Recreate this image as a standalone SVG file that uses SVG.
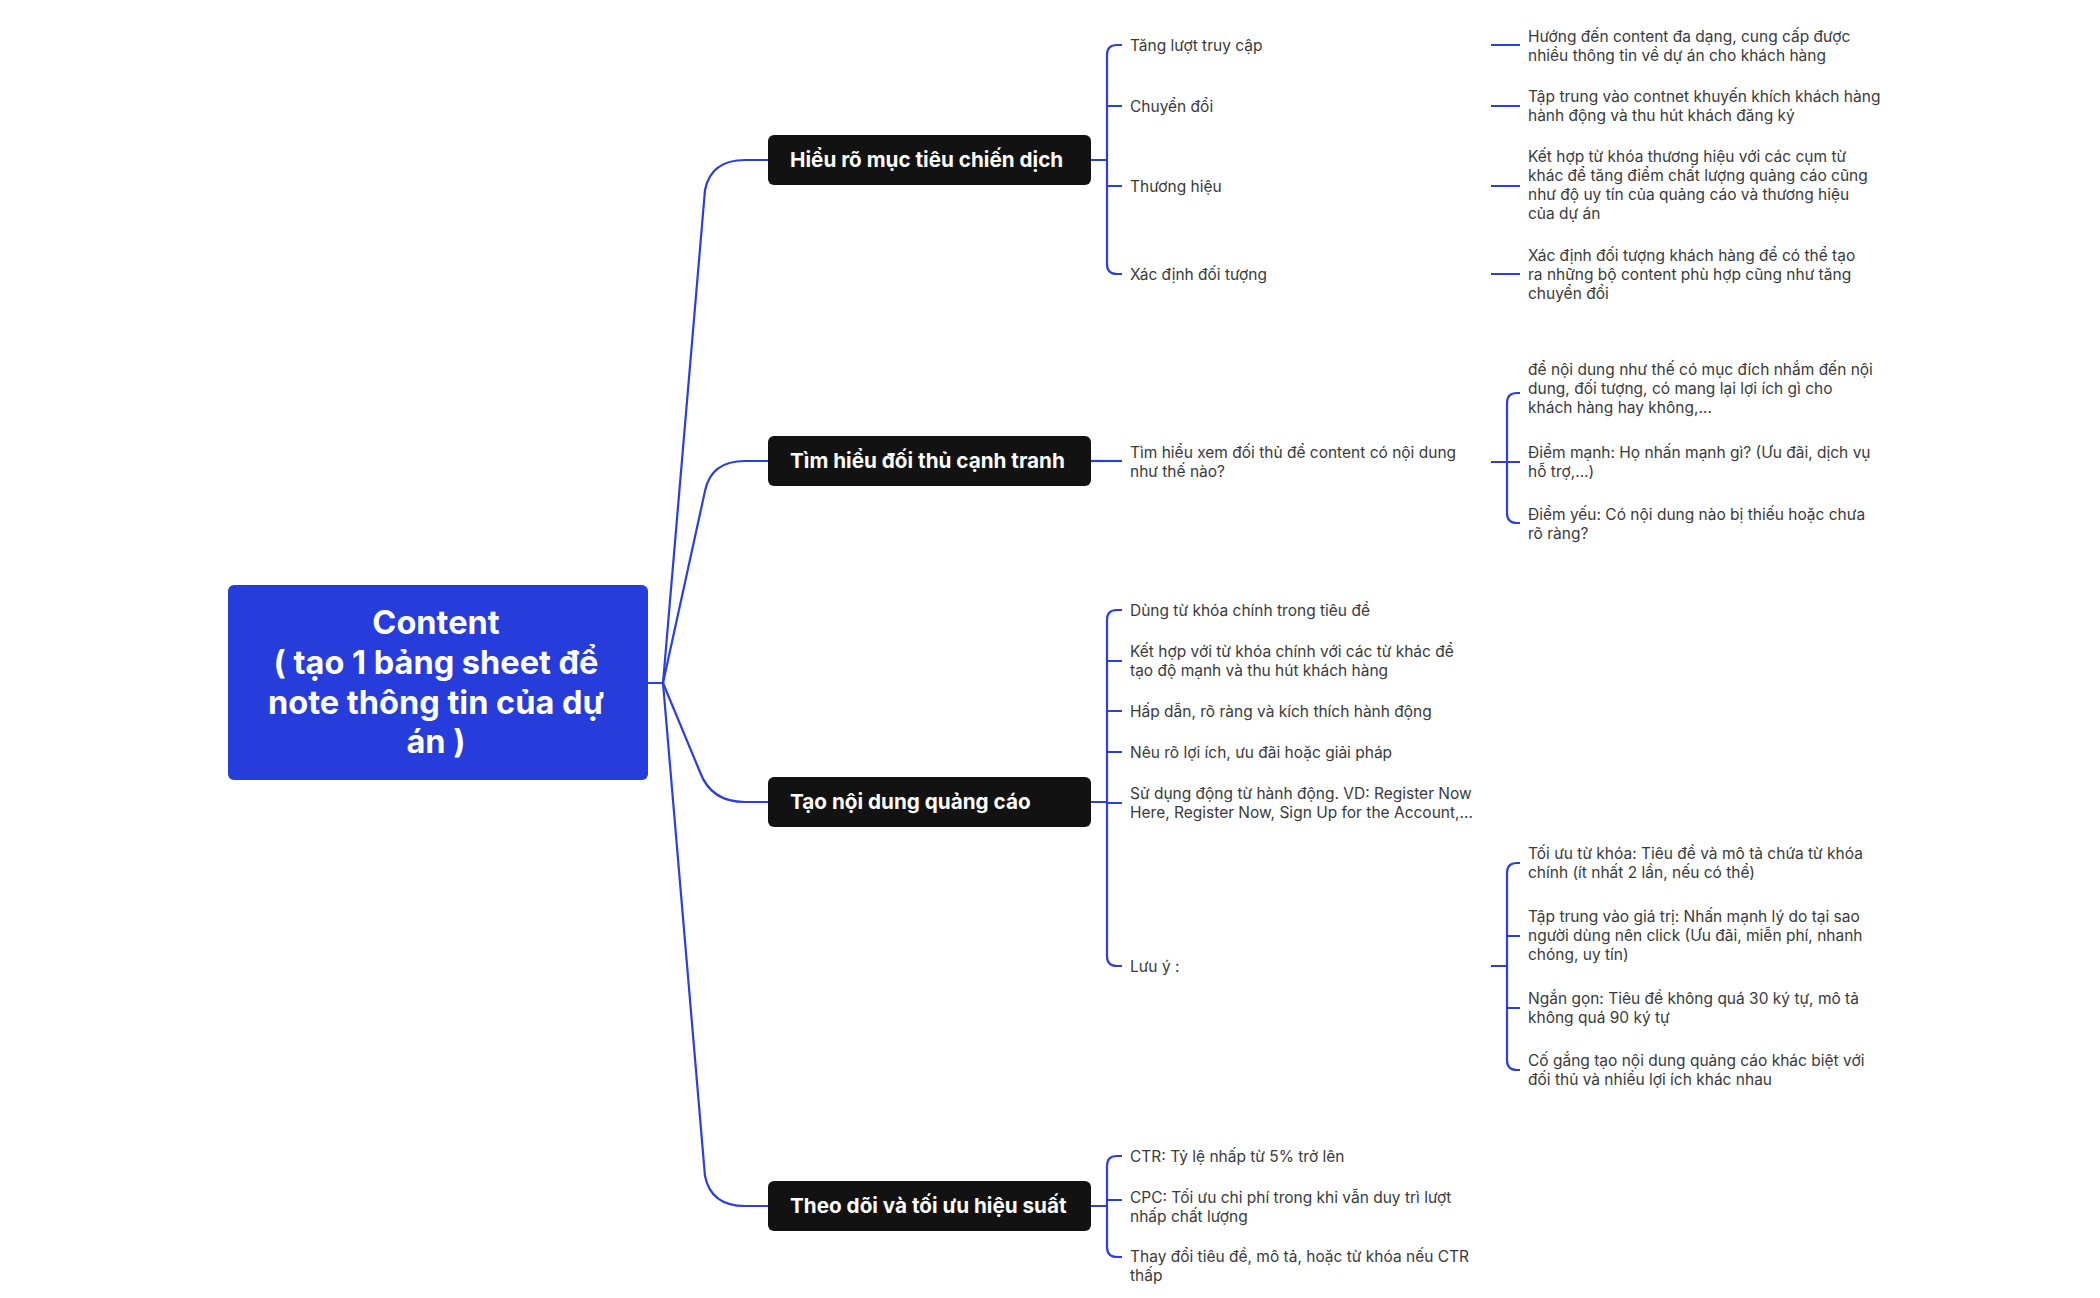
<svg xmlns="http://www.w3.org/2000/svg" width="2100" height="1298" viewBox="0 0 2100 1298">
<style>
.c{fill:none;stroke:#2b3fdc;stroke-width:2.2}
.b{fill:#121212}
.bt{font-family:Inter,"Noto Sans",sans-serif;font-weight:700;font-size:20.7px;fill:#fff}
.rt{font-family:Inter,"Noto Sans",sans-serif;font-weight:700;font-size:32.5px;fill:#fff;text-anchor:middle}
.t{font-family:Inter,"Noto Sans",sans-serif;font-size:15.5px;fill:#3a3a3a}
</style>
<rect width="2100" height="1298" fill="#fff"/>
<g id="connectors">
<path class="c" d="M648,683 H663 L705,190 Q711,160 745,160 H768"/>
<path class="c" d="M663,683 L705,491 Q711,461 745,461 H768"/>
<path class="c" d="M663,683 L700,772 Q711,802 745,802 H768"/>
<path class="c" d="M663,683 L705,1176 Q711,1206 745,1206 H768"/>
<path class="c" d="M1091,160 H1107 M1122,45 H1117 Q1107,45 1107,55 V264 Q1107,274 1117,274 H1122 M1107,106 H1122 M1107,186 H1122"/>
<path class="c" d="M1491,45 H1520 M1491,106 H1520 M1491,186 H1520 M1491,274 H1520"/>
<path class="c" d="M1091,461 H1122"/>
<path class="c" d="M1491,462 H1507 M1520,393 H1517 Q1507,393 1507,403 V513 Q1507,523 1517,523 H1520 M1507,462 H1520"/>
<path class="c" d="M1091,802 H1107 M1122,610 H1117 Q1107,610 1107,620 V956 Q1107,966 1117,966 H1122 M1107,661 H1122 M1107,711 H1122 M1107,752 H1122 M1107,803 H1122"/>
<path class="c" d="M1491,966 H1507 M1520,863 H1517 Q1507,863 1507,873 V1060 Q1507,1070 1517,1070 H1520 M1507,936 H1520 M1507,1008 H1520"/>
<path class="c" d="M1091,1206 H1107 M1122,1156 H1117 Q1107,1156 1107,1166 V1247 Q1107,1257 1117,1257 H1122 M1107,1200 H1122"/>
</g>
<g id="root"><rect x="228" y="585" width="420" height="195" rx="6" fill="#263ddc"/>
<text class="rt"><tspan x="436" y="634">Content</tspan><tspan x="436" y="674">( tạo 1 bảng sheet để</tspan><tspan x="436" y="714">note thông tin của dự</tspan><tspan x="436" y="753">án )</tspan></text></g>
<g id="b1"><rect class="b" x="768" y="135" width="323" height="50" rx="6"/><text class="bt" x="790" y="167">Hiểu rõ mục tiêu chiến dịch</text></g>
<g id="b2"><rect class="b" x="768" y="436" width="323" height="50" rx="6"/><text class="bt" x="790" y="468">Tìm hiểu đối thủ cạnh tranh</text></g>
<g id="b3"><rect class="b" x="768" y="777" width="323" height="50" rx="6"/><text class="bt" x="790" y="809">Tạo nội dung quảng cáo</text></g>
<g id="b4"><rect class="b" x="768" y="1181" width="323" height="50" rx="6"/><text class="bt" x="790" y="1213">Theo dõi và tối ưu hiệu suất</text></g>
<g id="leaves" class="t">
<text x="1130" y="51">Tăng lượt truy cập</text>
<text x="1130" y="112">Chuyển đổi</text>
<text x="1130" y="192">Thương hiệu</text>
<text x="1130" y="280">Xác định đối tượng</text>
<text><tspan x="1528" y="42">Hướng đến content đa dạng, cung cấp được</tspan><tspan x="1528" y="61">nhiều thông tin về dự án cho khách hàng</tspan></text>
<text><tspan x="1528" y="102">Tập trung vào contnet khuyến khích khách hàng</tspan><tspan x="1528" y="121">hành động và thu hút khách đăng ký</tspan></text>
<text><tspan x="1528" y="162">Kết hợp từ khóa thương hiệu với các cụm từ</tspan><tspan x="1528" y="181">khác để tăng điểm chất lượng quảng cáo cũng</tspan><tspan x="1528" y="200">như độ uy tín của quảng cáo và thương hiệu</tspan><tspan x="1528" y="219">của dự án</tspan></text>
<text><tspan x="1528" y="261">Xác định đối tượng khách hàng để có thể tạo</tspan><tspan x="1528" y="280">ra những bộ content phù hợp cũng như tăng</tspan><tspan x="1528" y="299">chuyển đổi</tspan></text>
<text><tspan x="1130" y="458">Tìm hiểu xem đối thủ để content có nội dung</tspan><tspan x="1130" y="477">như thế nào?</tspan></text>
<text><tspan x="1528" y="375">để nội dung như thế có mục đích nhắm đến nội</tspan><tspan x="1528" y="394">dung, đối tượng, có mang lại lợi ích gì cho</tspan><tspan x="1528" y="413">khách hàng hay không,...</tspan></text>
<text><tspan x="1528" y="458">Điểm mạnh: Họ nhấn mạnh gì? (Ưu đãi, dịch vụ</tspan><tspan x="1528" y="477">hỗ trợ,...)</tspan></text>
<text><tspan x="1528" y="520">Điểm yếu: Có nội dung nào bị thiếu hoặc chưa</tspan><tspan x="1528" y="539">rõ ràng?</tspan></text>
<text x="1130" y="616">Dùng từ khóa chính trong tiêu đề</text>
<text><tspan x="1130" y="657">Kết hợp với từ khóa chính với các từ khác để</tspan><tspan x="1130" y="676">tạo độ mạnh và thu hút khách hàng</tspan></text>
<text x="1130" y="717">Hấp dẫn, rõ ràng và kích thích hành động</text>
<text x="1130" y="758">Nêu rõ lợi ích, ưu đãi hoặc giải pháp</text>
<text><tspan x="1130" y="799">Sử dụng động từ hành động. VD: Register Now</tspan><tspan x="1130" y="818">Here, Register Now, Sign Up for the Account,...</tspan></text>
<text x="1130" y="972">Lưu ý :</text>
<text><tspan x="1528" y="859">Tối ưu từ khóa: Tiêu đề và mô tả chứa từ khóa</tspan><tspan x="1528" y="878">chính (ít nhất 2 lần, nếu có thể)</tspan></text>
<text><tspan x="1528" y="922">Tập trung vào giá trị: Nhấn mạnh lý do tại sao</tspan><tspan x="1528" y="941">người dùng nên click (Ưu đãi, miễn phí, nhanh</tspan><tspan x="1528" y="960">chóng, uy tín)</tspan></text>
<text><tspan x="1528" y="1004">Ngắn gọn: Tiêu đề không quá 30 ký tự, mô tả</tspan><tspan x="1528" y="1023">không quá 90 ký tự</tspan></text>
<text><tspan x="1528" y="1066">Cố gắng tạo nội dung quảng cáo khác biệt với</tspan><tspan x="1528" y="1085">đối thủ và nhiều lợi ích khác nhau</tspan></text>
<text x="1130" y="1162">CTR: Tỷ lệ nhấp từ 5% trở lên</text>
<text><tspan x="1130" y="1203">CPC: Tối ưu chi phí trong khi vẫn duy trì lượt</tspan><tspan x="1130" y="1222">nhấp chất lượng</tspan></text>
<text><tspan x="1130" y="1262">Thay đổi tiêu đề, mô tả, hoặc từ khóa nếu CTR</tspan><tspan x="1130" y="1281">thấp</tspan></text>
</g>
</svg>
